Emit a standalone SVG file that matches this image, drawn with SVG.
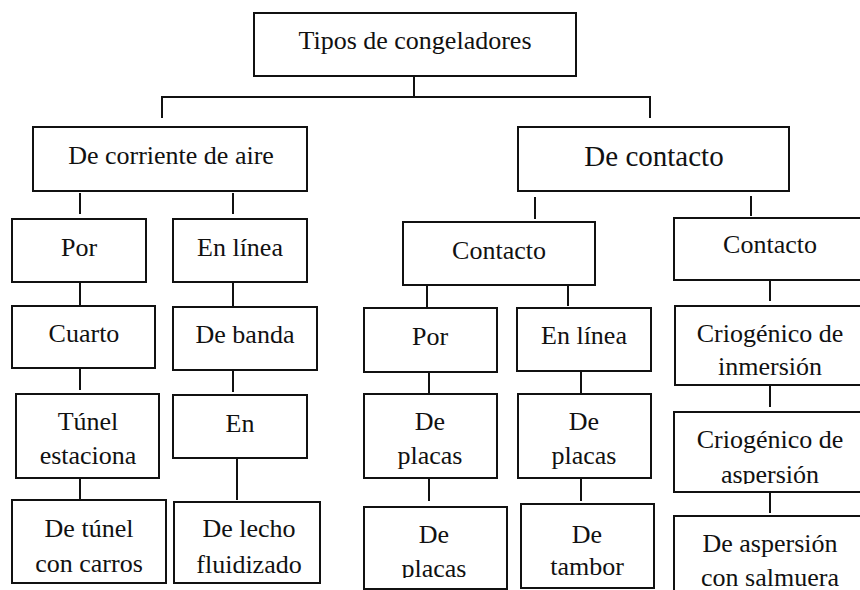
<svg xmlns="http://www.w3.org/2000/svg" width="860" height="590" viewBox="0 0 860 590">
<style>
.box{fill:#fff;stroke:#111;stroke-width:2}
.t{font-family:"Liberation Serif","Times New Roman",serif;font-size:26px;fill:#111;text-anchor:middle}
.big{font-size:29px}
.c{fill:none;stroke:#111;stroke-width:2}
</style>
<defs>
<clipPath id="clipPl"><rect x="360" y="500" width="150" height="78"/></clipPath>
<clipPath id="clipAsp"><rect x="670" y="405" width="200" height="79"/></clipPath>
</defs>
<rect width="860" height="590" fill="#fff"/>
<g id="connectors">
<path class="c" d="M414,76 V97 M162,118 V97 H650 V118"/>
<path class="c" d="M80,193 V214 M233,193 V214"/>
<path class="c" d="M80,282 V305 M80,368 V390 M80,478 V499"/>
<path class="c" d="M233,282 V307 M233,370 V392 M237,458 V500"/>
<path class="c" d="M535,197 V219 M751,196 V216"/>
<path class="c" d="M427,285 V308 M568,285 V306"/>
<path class="c" d="M429,372 V393 M429,478 V501"/>
<path class="c" d="M581,372 V393 M581,478 V501"/>
<path class="c" d="M770,280 V301 M770,385 V407 M770,492 V513"/>
</g>
<g id="n-root"><rect class="box" x="254" y="13" width="322" height="63"/><text class="t" x="415" y="49">Tipos de congeladores</text></g>
<g id="n-aire"><rect class="box" x="33" y="127" width="274" height="64"/><text class="t" x="171" y="164">De corriente de aire</text></g>
<g id="n-contacto"><rect class="box" x="518" y="127" width="271" height="64"/><text class="t big" x="654" y="166">De contacto</text></g>
<g id="n-por1"><rect class="box" x="12" y="219" width="134" height="63"/><text class="t" x="79" y="256">Por</text></g>
<g id="n-linea1"><rect class="box" x="173" y="219" width="134" height="63"/><text class="t" x="240" y="256">En línea</text></g>
<g id="n-cuarto"><rect class="box" x="12" y="306" width="143" height="62"/><text class="t" x="84" y="342">Cuarto</text></g>
<g id="n-banda"><rect class="box" x="173" y="307" width="144" height="63"/><text class="t" x="245" y="343">De banda</text></g>
<g id="n-tunel"><rect class="box" x="16" y="394" width="143" height="84"/><text class="t" x="88" y="430">Túnel</text><text class="t" x="88" y="464">estaciona</text></g>
<g id="n-en"><rect class="box" x="173" y="395" width="134" height="63"/><text class="t" x="240" y="432">En</text></g>
<g id="n-carros"><rect class="box" x="12" y="500" width="154" height="83"/><text class="t" x="89" y="537">De túnel</text><text class="t" x="89" y="572">con carros</text></g>
<g id="n-lecho"><rect class="box" x="174" y="502" width="146" height="81"/><text class="t" x="249" y="537">De lecho</text><text class="t" x="249" y="573">fluidizado</text></g>
<g id="n-contacto2"><rect class="box" x="403" y="222" width="192" height="63"/><text class="t" x="499" y="259">Contacto</text></g>
<g id="n-por2"><rect class="box" x="364" y="308" width="133" height="64"/><text class="t" x="430" y="345">Por</text></g>
<g id="n-linea2"><rect class="box" x="517" y="308" width="134" height="63"/><text class="t" x="584" y="344">En línea</text></g>
<g id="n-placas1"><rect class="box" x="364" y="394" width="133" height="84"/><text class="t" x="430" y="430">De</text><text class="t" x="430" y="464">placas</text></g>
<g id="n-placas2"><rect class="box" x="518" y="394" width="133" height="84"/><text class="t" x="584" y="430">De</text><text class="t" x="584" y="464">placas</text></g>
<g id="n-placas3"><rect class="box" x="364" y="507" width="143" height="82"/><text class="t" x="434" y="543">De</text><text class="t" x="434" y="577" clip-path="url(#clipPl)">placas</text></g>
<g id="n-tambor"><rect class="box" x="521" y="504" width="133" height="84"/><text class="t" x="587" y="543">De</text><text class="t" x="587" y="575">tambor</text></g>
<g id="n-contacto3"><rect class="box" x="674" y="218" width="194" height="62"/><text class="t" x="770" y="253">Contacto</text></g>
<g id="n-inmersion"><rect class="box" x="675" y="306" width="193" height="79"/><text class="t" x="770" y="342">Criogénico de</text><text class="t" x="770" y="375">inmersión</text></g>
<g id="n-aspersion"><rect class="box" x="674" y="412" width="194" height="80"/><text class="t" x="770" y="448">Criogénico de</text><text class="t" x="770" y="483" clip-path="url(#clipAsp)">aspersión</text></g>
<g id="n-salmuera"><rect class="box" x="674" y="516" width="194" height="80"/><text class="t" x="770" y="552">De aspersión</text><text class="t" x="770" y="586">con salmuera</text></g>
</svg>
